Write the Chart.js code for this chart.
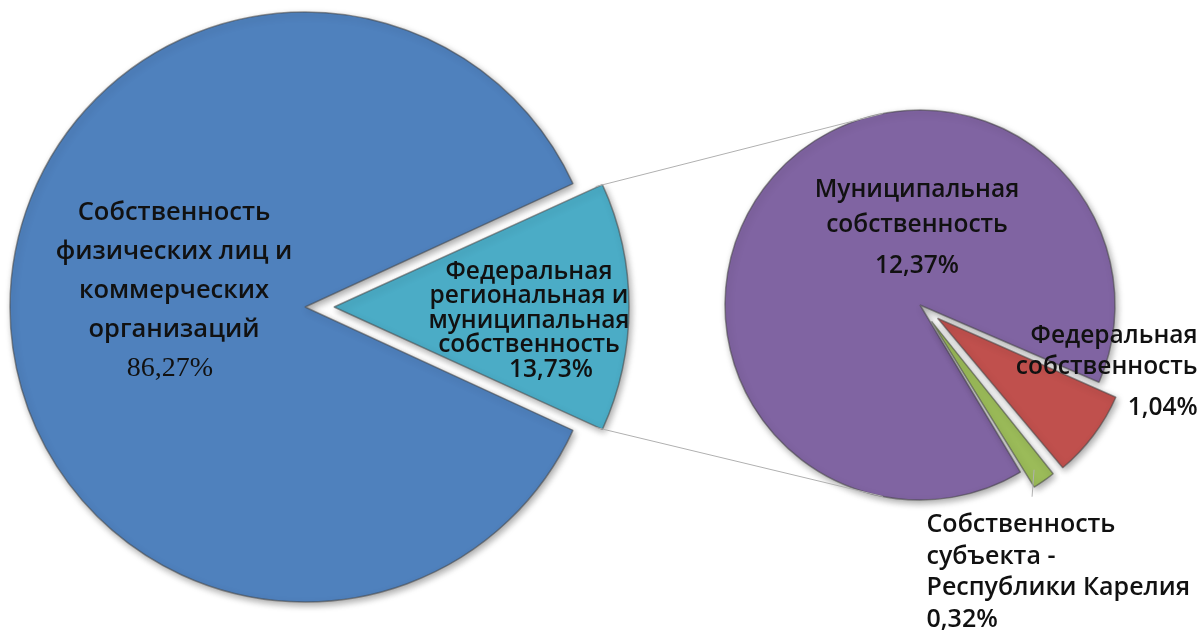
<!DOCTYPE html>
<html><head><meta charset="utf-8">
<script src="https://cdn.jsdelivr.net/npm/chart.js@4.4.1/dist/chart.umd.min.js"></script>
<style>
html,body{margin:0;padding:0;background:#fff;overflow:hidden;}
#wrap{position:relative;width:1203px;height:630px;}
#wrap canvas{position:absolute;left:0;top:0;}
</style></head><body>
<div id="wrap"><canvas id="main" width="1203" height="630"></canvas><canvas id="sub" width="1203" height="630"></canvas></div>
<script>
// ---- data ----
const mainCategories = [
  ['Собственность', 'физических лиц и', 'коммерческих', 'организаций'],
  ['Федеральная', 'региональная и', 'муниципальная', 'собственность']
];
const mainValues = [86.27, 13.73];
const subCategories = [
  ['Муниципальная', 'собственность'],
  ['Федеральная', 'собственность'],
  ['Собственность', 'субъекта -', 'Республики Карелия']
];
const subValues = [12.37, 1.04, 0.32];

// ---- styles ----
const mainColors = ['#4F81BD', '#4BACC6'];
const subColors = ['#8064A2', '#C0504D', '#9BBB59'];
const FONT = '"Open Sans", "Noto Sans", sans-serif';
const fmt = v => v.toFixed(2).replace('.', ',') + '%';

// Chart.js v4 translates an arc by offset/4 and grows its radius; undo the growth
const keepRadius = {
  id: 'keepRadius',
  afterDatasetsUpdate(chart) {
    chart.getDatasetMeta(0).data.forEach(arc => {
      const t = (arc.options.offset || 0) / 4;
      if (t) {
        const circ = arc.endAngle - arc.startAngle;
        const fix = 1 - Math.sin(Math.min(Math.PI, circ));
        arc.outerRadius -= t * fix;
      }
    });
  }
};
const shadow = {
  id: 'shadow',
  beforeDatasetsDraw(chart) {
    const c = chart.ctx; c.save();
    c.shadowColor = 'rgba(0,0,0,0.35)'; c.shadowBlur = 7; c.shadowOffsetX = 2; c.shadowOffsetY = 3;
  },
  afterDatasetsDraw(chart) { chart.ctx.restore(); }
};
function arcCenter(arc) {
  const mid = (arc.startAngle + arc.endAngle) / 2;
  const t = (arc.options.offset || 0) / 4;
  return {x: arc.x + Math.cos(mid) * t, y: arc.y + Math.sin(mid) * t, mid, t};
}
const sliceLabels = {
  id: 'sliceLabels',
  afterDatasetsDraw(chart, args, opts) {
    const ctx = chart.ctx;
    const meta = chart.getDatasetMeta(0);
    (opts.items || []).forEach(it => {
      const arc = meta.data[it.index];
      const c = arcCenter(arc);
      const lines = chart.data.labels[it.index];
      const val = fmt(chart.data.datasets[0].data[it.index]);
      ctx.save();
      ctx.fillStyle = '#111';
      ctx.textAlign = it.align || 'center';
      ctx.textBaseline = 'middle';
      let x = c.x + it.dx, y = c.y + it.dy;
      ctx.font = `600 ${it.size}px ${FONT}`;
      lines.forEach((ln, i) => ctx.fillText(ln, x, y + i * it.lh));
      ctx.font = it.pctFont || `600 ${it.size}px ${FONT}`;
      ctx.fillText(val, x + (it.pctDx || 0), y + (lines.length - 1) * it.lh + it.pctGap);
      ctx.restore();
    });
  }
};

const mainCyanDeg = mainValues[1] / mainValues.reduce((a, b) => a + b, 0) * 360;

const mainChart = new Chart(document.getElementById('main'), {
  type: 'pie',
  data: {
    labels: mainCategories,
    datasets: [{
      data: mainValues,
      backgroundColor: mainColors,
      borderColor: 'rgba(70,70,70,0.55)',
      borderWidth: 1.5,
      offset: [0, 116]
    }]
  },
  options: {
    responsive: false, animation: false, events: [],
    radius: 295,
    rotation: 90 + mainCyanDeg / 2,
    layout: {padding: {left: 0, top: 0, right: 593, bottom: 16}},
    plugins: {
      legend: {display: false}, tooltip: {enabled: false},
      sliceLabels: {items: [
        {index: 0, dx: -131, dy: -94, lh: 39, size: 25.5, pctGap: 39, pctDx: -4, pctFont: `28px "Liberation Serif", serif`},
        {index: 1, dx: 195, dy: -35, lh: 24.3, size: 24.5, pctGap: 25, pctDx: 22}
      ]}
    }
  },
  plugins: [keepRadius, shadow, sliceLabels]
});

const connectors = {
  id: 'connectors',
  afterDraw(chart) {
    const ctx = chart.ctx;
    const cyan = mainChart.getDatasetMeta(0).data[1];
    const c = arcCenter(cyan);
    const R = cyan.outerRadius;
    const sub0 = chart.getDatasetMeta(0).data[0];
    const sx = sub0.x, sy = sub0.y, sr = sub0.outerRadius;
    const a = 101 * Math.PI / 180;
    ctx.save();
    ctx.strokeStyle = '#b0b0b0'; ctx.lineWidth = 1;
    ctx.beginPath();
    ctx.moveTo(c.x + Math.cos(cyan.startAngle) * R, c.y + Math.sin(cyan.startAngle) * R);
    ctx.lineTo(sx + Math.cos(-a) * sr, sy + Math.sin(-a) * sr);
    ctx.moveTo(c.x + Math.cos(cyan.endAngle) * R, c.y + Math.sin(cyan.endAngle) * R);
    ctx.lineTo(sx + Math.cos(a) * sr, sy + Math.sin(a) * sr);
    // leader for the smallest slice
    const g = chart.getDatasetMeta(0).data[2];
    const gc = arcCenter(g);
    const gx = gc.x + Math.cos(gc.mid) * g.outerRadius, gy = gc.y + Math.sin(gc.mid) * g.outerRadius;
    ctx.moveTo(gx, gy + 3);
    ctx.lineTo(gx - 2, gy + 30);
    ctx.stroke();
    ctx.restore();
  }
};

const subChart = new Chart(document.getElementById('sub'), {
  type: 'pie',
  data: {
    labels: subCategories,
    datasets: [{
      data: subValues,
      backgroundColor: subColors,
      borderColor: 'rgba(70,70,70,0.55)',
      borderWidth: 1.5,
      offset: [0, 88, 80]
    }]
  },
  options: {
    responsive: false, animation: false, events: [],
    radius: 195,
    rotation: 149,
    layout: {padding: {left: 637, top: 0, right: 0, bottom: 20}},
    plugins: {
      legend: {display: false}, tooltip: {enabled: false},
      sliceLabels: {items: [
        {index: 0, dx: -3, dy: -115, lh: 35, size: 24.5, pctGap: 41},
        {index: 1, dx: 260, dy: 18, lh: 31, size: 24.5, pctGap: 41, align: 'right'},
        {index: 2, dx: -5, dy: 204, lh: 31.5, size: 25, pctGap: 32, align: 'left'}
      ]}
    }
  },
  plugins: [keepRadius, shadow, sliceLabels, connectors]
});
</script>
</body></html>
